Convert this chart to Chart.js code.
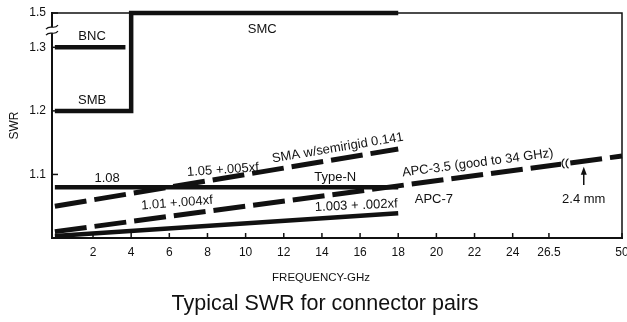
<!DOCTYPE html>
<html><head><meta charset="utf-8">
<script src="https://cdn.jsdelivr.net/npm/chart.js@4.4.0/dist/chart.umd.min.js"></script>
<style>html,body{margin:0;padding:0;background:#fff;overflow:hidden}canvas{display:block}</style>
</head><body>
<canvas id="c" width="627" height="322"></canvas>
<script>
// ---- data (frequency in GHz, SWR) ----
const bncFreq = [0, 3.7];
const bncSWR = [1.3, 1.3];
const smbSmcFreq = [0, 4, 4, 18];
const smbSmcSWR = [1.2, 1.2, 1.5, 1.5];
const typeNFreq = [0, 18];
const typeNSWR = [1.08, 1.08];
const smaFreq = [0, 18];
const smaSWR = [1.05, 1.14];
const apc35Freq = [0, 18, 50];
const apc35SWR = [1.01, 1.082, 1.129];
const apc7Freq = [0, 18];
const apc7SWR = [1.003, 1.039];
const xTickValues = [2, 4, 6, 8, 10, 12, 14, 16, 18, 20, 22, 24, 26.5, 50];
const xTickLabels = ['2', '4', '6', '8', '10', '12', '14', '16', '18', '20', '22', '24', '26.5', '50'];
const yTickValues = [1.1, 1.2, 1.3, 1.5];
const yTickLabels = ['1.1', '1.2', '1.3', '1.5'];
const labelTexts = ['BNC', 'SMB', 'SMC', '1.08', '1.05 +.005xf', 'SMA w/semirigid 0.141', '1.01 +.004xf', 'Type-N', '1.003 + .002xf', 'APC-3.5 (good to 34 GHz)', 'APC-7', '2.4 mm'];
const labelFreq = [1.95, 1.95, 10.87, 2.74, 8.81, 14.83, 6.4, 14.7, 15.8, 22.17, 19.87, 37.7];
const labelSWR = [1.364, 1.217, 1.405, 1.0945, 1.107, 1.1417, 1.055, 1.096, 1.051, 1.118, 1.0614, 1.06];
const labelAngle = [0, 0, 0, 0, -4, -9.5, -4.5, 0, -2.5, -7.5, 0, 0];
const xAxisTitle = 'FREQUENCY-GHz';
const chartTitle = 'Typical SWR for connector pairs';

// ---- broken axes (as printed on the original figure) ----
function xPos(f) { if (f <= 24) return f; if (f <= 26.5) return 24 + (f - 24) * 0.76; return 25.9 + (f - 26.5) * 0.163; }
function yPos(v) { return v <= 1.3 ? v : 1.3 + (v - 1.3) * 0.27; }
class BrokenX extends Chart.LinearScale {
  getPixelForValue(v) { const a = xPos(this.min), b = xPos(this.max); return this.left + (xPos(v) - a) / (b - a) * this.width; }
}
BrokenX.id = 'brokenX'; BrokenX.defaults = Chart.LinearScale.defaults;
class BrokenY extends Chart.LinearScale {
  getPixelForValue(v) { const a = yPos(this.min), b = yPos(this.max); return this.bottom - (yPos(v) - a) / (b - a) * this.height; }
}
BrokenY.id = 'brokenY'; BrokenY.defaults = Chart.LinearScale.defaults;
Chart.register(BrokenX, BrokenY);

const FONT = '"Liberation Sans", Arial, Helvetica, sans-serif';
const INK = '#111';
Chart.defaults.font.family = FONT;
Chart.defaults.color = INK;

const pts = (xs, ys) => xs.map((f, i) => ({x: f, y: ys[i]}));
const solid = (data) => ({data, borderColor: INK, borderWidth: 4.5, pointRadius: 0, fill: false, tension: 0, borderCapStyle: 'butt', borderJoinStyle: 'miter', clip: false});
const dashed = (data) => Object.assign(solid(data), {borderDash: [32, 8], borderWidth: 5});

const deco = {
  id: 'deco',
  afterDraw(chart) {
    const {ctx, chartArea: a, scales: {x, y}} = chart;
    ctx.save();
    ctx.strokeStyle = INK; ctx.fillStyle = INK;
    // top & right frame
    ctx.lineWidth = 1.5;
    ctx.beginPath(); ctx.moveTo(a.left, a.top); ctx.lineTo(a.right, a.top); ctx.lineTo(a.right, a.bottom); ctx.stroke();
    // inward tick marks
    x.ticks.forEach(t => { const px = x.getPixelForValue(t.value); ctx.beginPath(); ctx.moveTo(px, a.bottom); ctx.lineTo(px, a.bottom - 5); ctx.stroke(); });
    y.ticks.forEach(t => { const py = y.getPixelForValue(t.value); ctx.beginPath(); ctx.moveTo(a.left, py); ctx.lineTo(a.left + 6, py); ctx.stroke(); });
    // y axis break mark
    const by = y.getPixelForValue(1.4);
    ctx.fillStyle = '#fff'; ctx.fillRect(a.left - 3, by - 3, 6, 6); ctx.fillStyle = INK;
    ctx.lineWidth = 1.2;
    [-3, 3].forEach(d => {
      ctx.beginPath(); ctx.moveTo(a.left - 6, by + d + 2);
      ctx.bezierCurveTo(a.left - 2, by + d - 3, a.left + 2, by + d + 3, a.left + 6, by + d - 2); ctx.stroke();
    });
    // break mark on APC-3.5 line
    const x1 = x.getPixelForValue(18), y1 = y.getPixelForValue(1.082), x2 = x.getPixelForValue(50), y2 = y.getPixelForValue(1.129);
    const bx = x.getPixelForValue(32), bly = y1 + (bx - x1) / (x2 - x1) * (y2 - y1);
    ctx.fillStyle = '#fff'; ctx.fillRect(bx - 5, bly - 5, 8, 10); ctx.fillStyle = INK;
    ctx.lineWidth = 1.2;
    [-3, 1].forEach(d => { ctx.beginPath(); ctx.arc(bx + d + 5, bly, 6, Math.PI * 0.7, Math.PI * 1.3); ctx.stroke(); });
    // arrow for 2.4 mm
    const ax = x.getPixelForValue(37.7), ty = y.getPixelForValue(1.112), by2 = y.getPixelForValue(1.0835);
    ctx.lineWidth = 1.5;
    ctx.beginPath(); ctx.moveTo(ax, by2); ctx.lineTo(ax, ty + 5); ctx.stroke();
    ctx.beginPath(); ctx.moveTo(ax, ty); ctx.lineTo(ax - 3, ty + 8); ctx.lineTo(ax + 3, ty + 8); ctx.closePath(); ctx.fill();
    // labels
    ctx.font = '13px ' + FONT; ctx.textAlign = 'center'; ctx.textBaseline = 'middle';
    labelTexts.forEach((t, i) => {
      ctx.save();
      ctx.translate(x.getPixelForValue(labelFreq[i]), y.getPixelForValue(labelSWR[i]));
      ctx.rotate(labelAngle[i] * Math.PI / 180);
      ctx.fillText(t, 0, 0);
      ctx.restore();
    });
    // axis title and caption (placed as on the original figure)
    ctx.font = '11.5px ' + FONT;
    ctx.fillText(xAxisTitle, a.left + (a.right - a.left) * 0.472, a.bottom + 40);
    ctx.font = '21.5px ' + FONT;
    ctx.fillText(chartTitle, a.left + (a.right - a.left) * 0.479, a.bottom + 66);
    ctx.restore();
  }
};

new Chart(document.getElementById('c'), {
  type: 'line',
  data: {
    datasets: [
      solid(pts(bncFreq, bncSWR)),
      solid(pts(smbSmcFreq, smbSmcSWR)),
      solid(pts(typeNFreq, typeNSWR)),
      dashed(pts(smaFreq, smaSWR)),
      dashed(pts(apc35Freq, apc35SWR)),
      solid(pts(apc7Freq, apc7SWR))
    ]
  },
  options: {
    responsive: false, animation: false, events: [],
    layout: {padding: {top: 13, right: 5, left: 0, bottom: 0}},
    plugins: {legend: {display: false}, tooltip: {enabled: false}, title: {display: false}},
    scales: {
      x: {
        type: 'brokenX', min: -0.15, max: 50,
        afterBuildTicks: s => { s.ticks = xTickValues.map(v => ({value: v})); },
        afterFit: s => { s.height = 84; s.paddingLeft = 0; s.paddingRight = 0; },
        ticks: {autoSkip: false, maxRotation: 0, padding: 7, font: {size: 12}, color: INK, callback: (v, i) => xTickLabels[i]},
        grid: {drawOnChartArea: false, drawTicks: false},
        border: {display: true, color: INK, width: 2}
      },
      y: {
        type: 'brokenY', min: 1.0, max: 1.5,
        afterBuildTicks: s => { s.ticks = yTickValues.map(v => ({value: v})); },
        afterFit: s => { s.width = 52; s.paddingTop = 0; s.paddingBottom = 0; },
        ticks: {autoSkip: false, padding: 6, font: {size: 12}, color: INK, callback: (v, i) => yTickLabels[i]},
        grid: {drawOnChartArea: false, drawTicks: false},
        border: {display: true, color: INK, width: 2},
        title: {display: true, text: 'SWR', color: INK, font: {size: 12}, padding: {top: 7, bottom: 0}}
      }
    }
  },
  plugins: [deco]
});
</script>
</body></html>
